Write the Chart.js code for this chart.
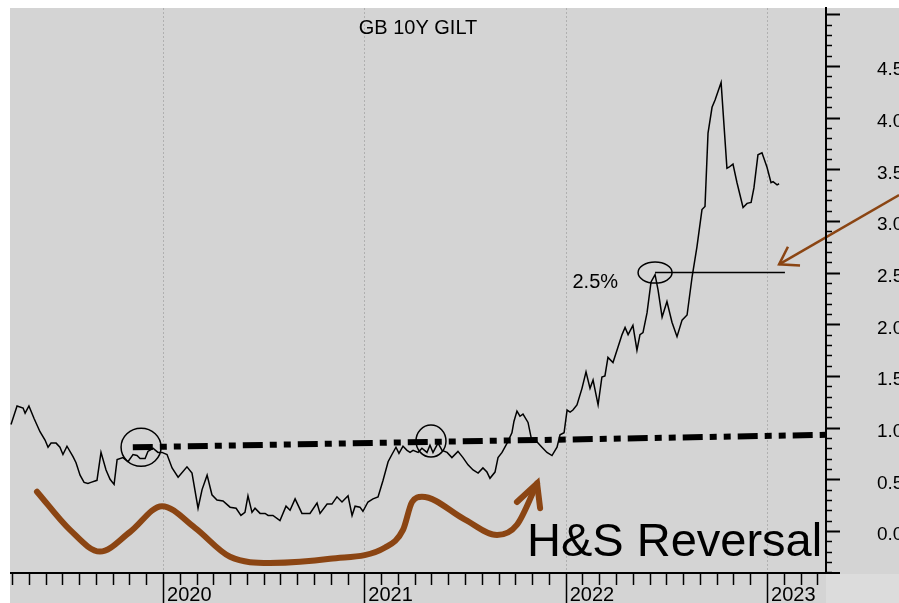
<!DOCTYPE html>
<html>
<head>
<meta charset="utf-8">
<script src="https://cdn.jsdelivr.net/npm/chart.js@4.4.0/dist/chart.umd.min.js"></script>
<style>
  html, body { margin: 0; padding: 0; background: #fff; }
  canvas { display: block; }
</style>
</head>
<body>
<canvas id="giltChart" width="899" height="603"></canvas>
<script>
// GB 10Y gilt yield (x = decimal year, y = %)
const dates = [
    2019.245, 2019.275, 2019.305, 2019.315, 2019.334, 2019.359, 2019.389, 2019.414, 2019.429, 2019.444,
    2019.469, 2019.488, 2019.503, 2019.523, 2019.553, 2019.568, 2019.588, 2019.608, 2019.627, 2019.642,
    2019.672, 2019.692, 2019.717, 2019.737, 2019.757, 2019.772, 2019.801, 2019.826, 2019.851, 2019.871,
    2019.886, 2019.911, 2019.925, 2019.950, 2019.975, 2019.995, 2020.020, 2020.045, 2020.075, 2020.119,
    2020.144, 2020.174, 2020.194, 2020.219, 2020.243, 2020.268, 2020.298, 2020.333, 2020.363, 2020.387,
    2020.407, 2020.422, 2020.442, 2020.457, 2020.482, 2020.507, 2020.522, 2020.546, 2020.581, 2020.611,
    2020.631, 2020.656, 2020.690, 2020.730, 2020.765, 2020.780, 2020.815, 2020.839, 2020.864, 2020.889,
    2020.919, 2020.939, 2020.954, 2020.978, 2020.993, 2021.018, 2021.043, 2021.068, 2021.093, 2021.118,
    2021.137, 2021.157, 2021.172, 2021.192, 2021.212, 2021.227, 2021.242, 2021.267, 2021.286, 2021.311,
    2021.326, 2021.341, 2021.366, 2021.386, 2021.411, 2021.435, 2021.465, 2021.490, 2021.515, 2021.540,
    2021.565, 2021.589, 2021.609, 2021.624, 2021.649, 2021.664, 2021.684, 2021.709, 2021.733, 2021.743,
    2021.758, 2021.773, 2021.788, 2021.813, 2021.833, 2021.858, 2021.882, 2021.907, 2021.932, 2021.957,
    2021.972, 2021.992, 2022.007, 2022.022, 2022.036, 2022.056, 2022.081, 2022.101, 2022.121, 2022.136,
    2022.161, 2022.180, 2022.195, 2022.210, 2022.235, 2022.260, 2022.280, 2022.295, 2022.310, 2022.334,
    2022.354, 2022.369, 2022.384, 2022.404, 2022.424, 2022.444, 2022.459, 2022.479, 2022.503, 2022.528,
    2022.553, 2022.578, 2022.603, 2022.628, 2022.652, 2022.677, 2022.692, 2022.707, 2022.727, 2022.742,
    2022.772, 2022.781, 2022.801, 2022.811, 2022.831, 2022.851, 2022.881, 2022.901, 2022.921, 2022.935,
    2022.955, 2022.975, 2023.000, 2023.020, 2023.030, 2023.050, 2023.060
];
const yields = [
    1.03, 1.21, 1.19, 1.14, 1.21, 1.09, 0.96, 0.88, 0.81, 0.85,
    0.85, 0.81, 0.74, 0.82, 0.72, 0.66, 0.54, 0.47, 0.46, 0.47,
    0.49, 0.76, 0.59, 0.50, 0.45, 0.69, 0.71, 0.67, 0.74, 0.73,
    0.70, 0.70, 0.77, 0.80, 0.76, 0.76, 0.74, 0.61, 0.52, 0.62,
    0.56, 0.22, 0.40, 0.54, 0.35, 0.30, 0.29, 0.23, 0.22, 0.15,
    0.18, 0.34, 0.18, 0.22, 0.17, 0.17, 0.15, 0.15, 0.10, 0.24,
    0.20, 0.31, 0.17, 0.17, 0.27, 0.17, 0.26, 0.26, 0.33, 0.28,
    0.34, 0.15, 0.24, 0.23, 0.19, 0.28, 0.31, 0.33, 0.49, 0.67,
    0.74, 0.81, 0.75, 0.82, 0.78, 0.76, 0.78, 0.76, 0.80, 0.76,
    0.83, 0.76, 0.85, 0.78, 0.76, 0.71, 0.77, 0.71, 0.64, 0.59,
    0.56, 0.61, 0.57, 0.51, 0.57, 0.71, 0.76, 0.85, 0.95, 1.06,
    1.16, 1.11, 1.13, 1.05, 0.86, 0.86, 0.81, 0.76, 0.73, 0.81,
    0.93, 0.95, 1.17, 1.15, 1.17, 1.22, 1.38, 1.54, 1.38, 1.46,
    1.22, 1.49, 1.50, 1.68, 1.63, 1.78, 1.90, 1.97, 1.90, 1.99,
    1.75, 1.90, 1.92, 2.11, 2.41, 2.48, 2.33, 2.07, 2.22, 2.02,
    1.88, 2.04, 2.09, 2.46, 2.75, 3.11, 3.14, 3.85, 4.10, 4.17,
    4.34, 4.08, 3.51, 3.52, 3.55, 3.37, 3.13, 3.17, 3.18, 3.32,
    3.64, 3.66, 3.52, 3.37, 3.38, 3.35, 3.36
];

const yearTicks = [2020, 2021, 2022, 2023];

// neckline of the head & shoulders
const necklineX = [2019.85, 2023.293];
const necklineY = [0.81, 0.93];

// brown hand-drawn sketch of the pattern
const sketchX = [2019.374, 2019.538, 2019.687, 2019.836, 2019.995, 2020.159, 2020.333, 2020.531, 2020.829, 2021.103, 2021.192, 2021.237, 2021.286, 2021.500, 2021.659, 2021.758, 2021.858];
const sketchY = [0.38, 0.01, -0.20, -0.01, 0.24, 0.03, -0.25, -0.31, -0.27, -0.16, 0.01, 0.28, 0.33, 0.11, -0.04, 0.06, 0.46];
const sketchHeadX = [2021.758, 2021.858, 2021.873];
const sketchHeadY = [0.28, 0.46, 0.22];

// 2.5% level line and the arrow pointing at it
const levelX = [2022.444, 2023.089];
const levelY = [2.5, 2.5];
const pointerX = [2023.656, 2023.060];
const pointerY = [3.25, 2.58];
const pointerHeadX = [2023.104, 2023.060, 2023.164];
const pointerHeadY = [2.75, 2.58, 2.57];

// circled points
const circleX = [2019.891, 2021.331, 2022.444];
const circleY = [0.81, 0.87, 2.50];

const titleText = 'GB 10Y GILT';
const levelText = '2.5%';
const patternText = 'H&S Reversal';
const patternAt = [2021.808, -0.24];

const BROWN = '#8b4513';
const FONT = 'Arial, "Liberation Sans", sans-serif';

const pts = (xs, ys) => xs.map((x, i) => ({ x: x, y: ys[i] }));

function line(ctx, x1, y1, x2, y2) {
    ctx.beginPath();
    ctx.moveTo(x1, y1);
    ctx.lineTo(x2, y2);
    ctx.stroke();
}

// keep the scales from pushing the plot area in
function noScalePadding(s) {
    s.paddingTop = 0;
    s.paddingBottom = 0;
    s.paddingLeft = 0;
    s.paddingRight = 0;
}

const decor = {
    id: 'decor',
    beforeDraw(chart) {
        const { ctx, width, height, chartArea: a } = chart;
        ctx.save();
        ctx.fillStyle = '#d4d4d4';
        ctx.fillRect(0, 0, width, height);
        ctx.fillStyle = '#dcdcdc';
        ctx.fillRect(a.right, a.bottom + 1, width - a.right, height - a.bottom);
        ctx.fillStyle = '#fff';
        ctx.fillRect(0, 0, width, a.top);
        ctx.fillRect(0, 0, a.left, height);
        ctx.restore();
    },
    beforeDatasetsDraw(chart) {
        const { ctx, chartArea: a } = chart;
        const x = chart.scales.x;
        ctx.save();
        ctx.strokeStyle = '#b0b0b0';
        ctx.lineWidth = 1;
        ctx.setLineDash([2, 2]);
        yearTicks.forEach(yr => {
            const px = Math.round(x.getPixelForValue(yr)) + 0.5;
            line(ctx, px, a.top, px, a.bottom);
        });
        ctx.restore();
    },
    afterDatasetsDraw(chart) {
        const { ctx, chartArea: a } = chart;
        const x = chart.scales.x, y = chart.scales.y;
        const radii = [[20, 19], [15, 16], [17, 10.5]];
        ctx.save();
        ctx.strokeStyle = '#000';
        ctx.lineWidth = 1.5;
        circleX.forEach((cx, i) => {
            ctx.beginPath();
            ctx.ellipse(x.getPixelForValue(cx), y.getPixelForValue(circleY[i]), radii[i][0], radii[i][1], 0, 0, Math.PI * 2);
            ctx.stroke();
        });

        ctx.fillStyle = '#000';
        ctx.font = '20px ' + FONT;
        ctx.textAlign = 'center';
        ctx.textBaseline = 'middle';
        ctx.fillText(titleText, (a.left + a.right) / 2, a.top + 20);

        ctx.textAlign = 'right';
        ctx.fillText(levelText, x.getPixelForValue(levelX[0]) - 37, y.getPixelForValue(levelY[0]) + 10);

        ctx.font = '47px ' + FONT;
        ctx.textAlign = 'left';
        ctx.textBaseline = 'alphabetic';
        ctx.fillText(patternText, x.getPixelForValue(patternAt[0]), y.getPixelForValue(patternAt[1]));
        ctx.restore();
    },
    afterDraw(chart) {
        const { ctx, chartArea: a, height } = chart;
        const x = chart.scales.x, y = chart.scales.y;
        ctx.save();
        ctx.strokeStyle = '#000';
        ctx.lineWidth = 2;
        line(ctx, a.left, a.bottom, a.right + 14, a.bottom);
        line(ctx, a.right, a.top - 1, a.right, a.bottom);

        // monthly ticks, year ticks run down to the edge
        ctx.lineWidth = 1.5;
        for (let yr = 2019; yr <= 2023; yr++) {
            for (let m = 0; m < 12; m++) {
                const v = yr + m / 12;
                if (v < x.min || v > x.max) continue;
                const px = Math.round(x.getPixelForValue(v)) + 0.5;
                line(ctx, px, a.bottom, px, m === 0 ? height : a.bottom + 12);
            }
        }
        // 0.1 ticks on the yield axis
        for (let k = -4; k <= 50; k++) {
            const py = Math.round(y.getPixelForValue(k / 10)) + 0.5;
            if (py < a.top || py > a.bottom) continue;
            const major = k % 5 === 0;
            ctx.lineWidth = major ? 2 : 1.5;
            line(ctx, a.right, py, a.right + (major ? 14 : 6), py);
        }
        ctx.restore();
    }
};

new Chart(document.getElementById('giltChart').getContext('2d'), {
    type: 'line',
    data: {
        datasets: [
            {
                data: pts(necklineX, necklineY),
                borderColor: '#000',
                borderWidth: 6,
                borderDash: [20, 7, 7, 7, 7, 7],
                borderCapStyle: 'butt',
                pointRadius: 0,
                order: 1
            },
            {
                data: pts(dates, yields),
                borderColor: '#000',
                borderWidth: 1.5,
                pointRadius: 0,
                tension: 0,
                order: 2
            },
            {
                data: pts(levelX, levelY),
                borderColor: '#000',
                borderWidth: 1.5,
                pointRadius: 0,
                order: 3
            },
            {
                data: pts(sketchX, sketchY),
                borderColor: BROWN,
                borderWidth: 6,
                borderCapStyle: 'round',
                cubicInterpolationMode: 'monotone',
                pointRadius: 0,
                order: 4
            },
            {
                data: pts(sketchHeadX, sketchHeadY),
                borderColor: BROWN,
                borderWidth: 6,
                borderCapStyle: 'round',
                borderJoinStyle: 'miter',
                pointRadius: 0,
                order: 4
            },
            {
                data: pts(pointerX, pointerY),
                borderColor: BROWN,
                borderWidth: 2.5,
                pointRadius: 0,
                clip: false,
                order: 5
            },
            {
                data: pts(pointerHeadX, pointerHeadY),
                borderColor: BROWN,
                borderWidth: 2.5,
                borderJoinStyle: 'miter',
                pointRadius: 0,
                clip: false,
                order: 5
            }
        ]
    },
    options: {
        responsive: false,
        devicePixelRatio: 1,
        animation: false,
        layout: { padding: { left: 10, top: 8, right: 0, bottom: 0 } },
        plugins: {
            legend: { display: false },
            tooltip: { enabled: false },
            title: { display: false }
        },
        scales: {
            x: {
                type: 'linear',
                min: 2019.24,
                max: 2023.293,
                grid: { display: false, drawTicks: false },
                border: { display: false },
                afterBuildTicks: s => { s.ticks = yearTicks.map(v => ({ value: v })); },
                ticks: {
                    align: 'start',
                    labelOffset: 4,
                    padding: 10,
                    autoSkip: false,
                    maxRotation: 0,
                    color: '#000',
                    font: { family: FONT, size: 20 },
                    callback: v => String(v)
                },
                afterFit: s => { s.height = 30; noScalePadding(s); }
            },
            y: {
                type: 'linear',
                position: 'right',
                min: -0.407,
                max: 5.061,
                grid: { display: false, drawTicks: false },
                border: { display: false },
                ticks: {
                    stepSize: 0.5,
                    includeBounds: false,
                    autoSkip: false,
                    padding: 51,
                    labelOffset: 4,
                    color: '#000',
                    font: { family: FONT, size: 19 },
                    callback: v => (v < -0.01 || v > 4.6) ? null : v.toFixed(1)
                },
                afterFit: s => { s.width = 73; noScalePadding(s); }
            }
        }
    },
    plugins: [decor]
});
</script>
</body>
</html>
